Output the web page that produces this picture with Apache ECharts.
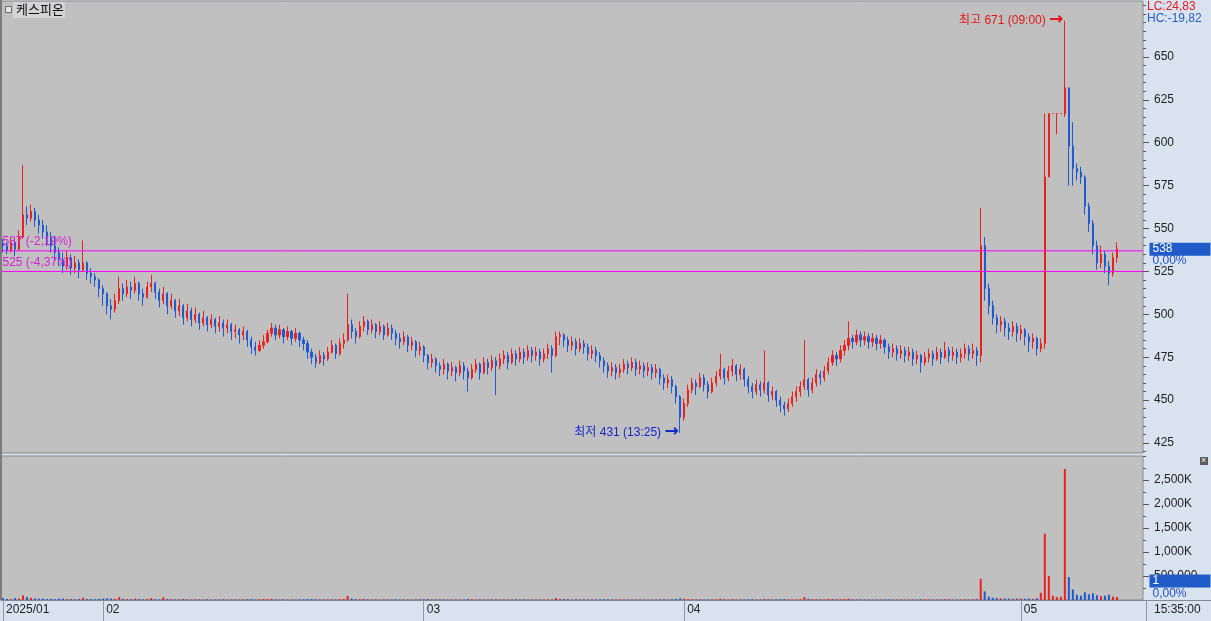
<!DOCTYPE html>
<html><head><meta charset="utf-8">
<script src="https://cdn.jsdelivr.net/npm/echarts@6/dist/echarts.min.js"></script>
<style>html,body{margin:0;padding:0;background:#d9e3ef;}#c{width:1211px;height:621px;}</style>
</head><body><div id="c"></div>
<script>
const monthStarts=[0,25,105,170,254];
const monthNames=['2025/01','02','03','04','05'];
const firstOpen=541;
const closes=[
540,537,542,538,545,558,556,560,555,552,548,545,540,536,532,528,533,527,530,526,
530,524,522,520,515,512,505,503,508,515,512,516,514,518,512,510,516,518,513,508,
512,505,508,502,505,498,502,497,500,495,498,494,497,493,495,492,494,490,491,488,
490,485,481,479,482,484,489,492,488,491,487,490,486,489,485,483,478,475,472,476,
474,478,482,477,483,485,494,490,487,493,496,491,494,490,493,488,492,489,486,484,
487,482,484,479,481,476,472,474,470,468,471,467,469,466,470,467,463,468,471,466,
472,469,473,470,474,476,472,477,474,478,475,479,476,478,474,477,480,476,487,488,
485,482,484,480,483,481,477,479,476,473,470,467,469,466,468,471,469,472,468,470,
467,469,466,468,463,460,462,458,452,440,448,456,460,458,463,459,455,460,464,468,
463,467,470,465,468,462,458,455,459,456,460,453,455,450,447,445,448,452,455,458,
462,456,460,465,463,467,472,476,474,479,482,486,484,488,485,487,484,486,483,485,
481,478,480,477,479,476,478,474,476,472,475,477,474,478,475,479,476,478,475,477,
480,477,479,476,540,515,505,498,494,496,492,490,493,489,491,487,484,486,480,483,
580,617,617,617,617,632,598,585,583,580,563,553,540,530,535,528,524,533,538];
const highs=[
544,542,545,543,549,587,563,564,562,558,555,552,548,545,539,536,537,535,534,532,
543,531,527,524,521,517,513,509,512,522,518,520,519,522,519,515,519,523,519,515,
516,513,512,509,509,506,506,504,504,501,502,499,500,498,499,497,497,495,494,492,
493,491,487,484,485,488,491,495,494,494,492,493,491,492,490,487,485,480,477,479,
478,481,485,483,486,489,512,497,492,496,499,497,497,495,496,494,495,494,491,489,
490,488,487,485,484,482,477,477,475,472,474,472,472,470,473,472,469,471,474,472,
475,474,476,475,477,479,478,480,479,481,480,482,481,481,480,480,483,482,490,490,
489,487,487,486,486,485,483,482,481,478,475,472,472,471,471,474,473,475,474,473,
472,472,471,471,469,465,465,464,459,453,451,459,463,462,466,465,461,463,467,477,
469,470,474,471,471,469,464,460,462,461,479,461,458,456,452,449,451,455,458,461,
485,463,463,468,467,470,475,479,478,482,485,496,488,491,490,490,489,489,488,488,
486,483,483,482,482,481,481,480,479,477,478,480,479,481,480,484,481,481,480,480,
483,482,483,481,562,545,518,508,500,499,498,495,496,495,494,492,489,489,487,486,
617,617,617,617,617,671,632,612,588,586,581,565,555,543,540,537,531,536,542];
const lows=[
536,535,536,534,537,544,552,554,551,547,544,540,536,531,528,524,526,523,524,521,
525,520,518,516,510,505,500,497,501,506,508,510,509,512,508,505,509,513,509,504,
506,500,503,498,499,494,496,493,495,491,493,490,492,489,490,487,489,485,486,483,
485,481,477,476,478,480,483,487,485,486,483,485,482,484,481,479,474,471,469,471,
470,473,477,474,476,480,484,486,483,486,490,488,489,486,488,485,487,485,482,480,
482,478,479,475,476,472,468,469,466,464,465,462,464,461,464,462,455,462,466,462,
465,465,467,453,468,471,468,471,470,472,471,473,472,473,470,472,474,466,475,482,
481,478,479,476,478,477,473,474,472,469,466,463,464,462,463,466,465,467,464,465,
463,464,462,463,459,456,457,454,448,431,438,446,454,453,457,455,451,454,458,462,
459,461,464,461,462,458,454,451,453,452,454,449,450,446,443,441,443,446,449,452,
456,452,454,458,459,461,465,470,470,472,476,479,480,482,481,482,480,481,479,480,
477,474,475,473,474,472,473,470,471,466,470,472,470,473,471,474,472,473,471,472,
474,473,474,470,472,508,500,494,489,490,487,485,487,484,485,482,478,480,476,478,
480,600,617,605,617,615,575,575,578,576,558,548,535,526,527,524,517,522,530];
const volumesK=[
35,22,18,40,28,95,60,45,30,25,28,20,22,18,25,30,16,20,14,22,
45,20,18,16,24,30,35,28,22,60,25,20,18,30,22,16,20,40,18,15,
55,20,16,14,18,22,15,12,16,14,12,18,10,14,12,16,11,13,15,12,
14,18,16,12,15,20,18,22,14,12,16,11,13,12,15,14,18,20,16,12,
14,12,16,13,18,22,85,30,18,15,20,16,12,14,11,13,15,12,14,10,
12,14,11,13,15,16,18,12,14,13,15,11,12,14,12,10,20,14,12,15,
13,11,14,16,12,14,11,13,15,12,14,11,12,13,10,12,14,11,40,22,
16,14,12,15,11,13,12,14,11,12,14,16,12,11,13,10,12,14,11,13,
12,10,13,11,14,16,12,15,20,35,24,18,14,12,15,11,13,14,12,25,
14,12,15,11,13,12,14,16,12,11,22,18,13,15,16,20,14,12,13,15,
60,24,16,18,14,15,20,22,16,18,20,28,16,14,15,12,13,11,14,12,
13,15,11,12,14,10,12,13,11,16,12,14,11,13,12,18,14,12,11,13,
15,12,14,16,440,180,70,45,40,35,30,30,25,30,28,25,30,22,35,150,
1380,500,90,60,70,2730,480,220,110,90,160,120,140,100,80,90,110,70,60];
const priceTicks=[425,450,475,500,525,550,575,600,625,650];
const volumeTicksK=[500,1000,1500,2000,2500];
const levelValues=[537,525];
const levelTexts=['537 (-2,19%)','525 (-4,37%)'];
const lastPrice=538;
const lastVolume=1;
const highMark={index:265,value:671,text:'최고 671 (09:00)'};
const lowMark={index:169,value:431,text:'최저 431 (13:25)'};
const totalSlots=285;

const RED='#e8221c', BLUE='#1f5ad0', MAG='#ff00ff', CLEAR='rgba(0,0,0,0)';
const FONT='"Liberation Sans","Noto Sans CJK KR",sans-serif';
const slots=Array.from({length:totalSlots},(_,i)=>String(i));
const lastSlot=totalSlots-1;
const opens=closes.map((c,i)=>i===0?firstOpen:closes[i-1]);
const candles=closes.map((c,i)=>{const o=opens[i];return [o,c,Math.min(lows[i],o,c),Math.max(highs[i],o,c)];});
const volData=volumesK.map((v,i)=>({value:v,itemStyle:{color:closes[i]>=opens[i]?RED:BLUE}}));
const PMIN=419.2, PMAX=682.6;
const priceMinor=[];for(let v=420;v<=680;v+=5)priceMinor.push(v);
const volMinor=[];for(let v=250;v<=3000;v+=250)volMinor.push(v);
const fmtK=v=>v>=1000?(v.toLocaleString('en-US')+'K'):(v*1000).toLocaleString('en-US');
const boxPoint=(y,txt,off)=>({coord:[lastSlot,y],label:{show:true,position:'right',formatter:txt,color:'#fff',backgroundColor:'#1f5cc8',width:58,height:13,lineHeight:13,padding:[0,0,0,3],distance:8,offset:off,fontSize:12,fontFamily:FONT}});
const pctPoint=(y,off)=>({coord:[lastSlot,y],label:{show:true,position:'right',formatter:'0,00%',color:'#2050c8',distance:11,offset:off,fontSize:12,fontFamily:FONT}});
const arrowRich=(c)=>({t:{color:c,fontSize:12,fontFamily:FONT},a:{color:c,fontSize:17,fontWeight:'bold',fontFamily:'"DejaVu Sans"',padding:[0,0,2,0]}});
const hiddenPoints={symbol:'circle',symbolSize:1,silent:true,itemStyle:{color:CLEAR}};

// both level lines in one series, separated by a gap
const levelData=[];
levelValues.forEach((v,k)=>{
  if(k>0)levelData.push('-');
  levelData.push({value:[0,v],label:{show:true,position:'right',distance:1,offset:[0,-9],formatter:levelTexts[k],color:'#d81ed8',fontSize:12,fontFamily:FONT}});
  levelData.push([lastSlot,v]);
});

const chart=echarts.init(document.getElementById('c'));
chart.setOption({
  backgroundColor:'#d9e3ef',animation:false,
  textStyle:{fontFamily:FONT},
  grid:[
    {left:1,right:68,top:1,height:452,show:true,backgroundColor:'#c0c0c0',borderColor:'#8a8a8a',borderWidth:1},
    {left:1,right:68,top:456,height:144,show:true,backgroundColor:'#c0c0c0',borderColor:'#8a8a8a',borderWidth:1}
  ],
  xAxis:[
    {type:'category',gridIndex:0,data:slots,boundaryGap:false,show:false},
    {type:'category',gridIndex:1,data:slots,boundaryGap:true,
     axisLine:{show:true,lineStyle:{color:'#7f8a96'}},
     axisTick:{show:true,alignWithLabel:true,length:21,interval:(i)=>monthStarts.includes(i),lineStyle:{color:'#8e9aa8'}},
     axisLabel:{interval:(i)=>monthStarts.includes(i),formatter:(v,i)=>monthNames[monthStarts.indexOf(i)],align:'left',padding:[0,0,0,3],margin:4,color:'#222',fontSize:12,fontFamily:FONT},
     splitLine:{show:false}},
    {type:'category',gridIndex:0,data:slots,boundaryGap:true,show:false}
  ],
  yAxis:[
    {type:'value',gridIndex:0,position:'right',min:PMIN,max:PMAX,splitLine:{show:false},axisLine:{show:false},
     axisTick:{show:true,length:6,customValues:priceTicks,lineStyle:{color:'#555'}},
     axisLabel:{customValues:priceTicks,margin:11,color:'#222',fontSize:12,fontFamily:FONT}},
    {type:'value',gridIndex:0,position:'right',min:PMIN,max:PMAX,splitLine:{show:false},axisLine:{show:false},
     axisTick:{show:true,length:3,customValues:priceMinor,lineStyle:{color:'#555'}},axisLabel:{show:false}},
    {type:'value',gridIndex:1,position:'right',min:0,max:3000,splitLine:{show:false},axisLine:{show:false},
     axisTick:{show:true,length:6,customValues:volumeTicksK,lineStyle:{color:'#555'}},
     axisLabel:{customValues:volumeTicksK,formatter:fmtK,margin:11,color:'#222',fontSize:12,fontFamily:FONT}},
    {type:'value',gridIndex:1,position:'right',min:0,max:3000,splitLine:{show:false},axisLine:{show:false},
     axisTick:{show:true,length:3,customValues:volMinor,lineStyle:{color:'#555'}},axisLabel:{show:false}}
  ],
  series:[
    {type:'line',xAxisIndex:0,yAxisIndex:0,z:4,silent:true,data:levelData,connectNulls:false,
     showSymbol:true,symbol:'circle',symbolSize:1,
     lineStyle:{color:MAG,width:1,type:'solid',opacity:1},itemStyle:{color:CLEAR},emphasis:{disabled:true}},
    {type:'candlestick',xAxisIndex:2,yAxisIndex:0,data:candles,barWidth:1.6,z:3,
     itemStyle:{color:RED,color0:BLUE,borderColor:RED,borderColor0:BLUE,borderWidth:1},
     markPoint:Object.assign({},hiddenPoints,{
       data:[
        {coord:[highMark.index,highMark.value],label:{show:true,position:'left',distance:1,formatter:'{t|'+highMark.text+'} {a|→}',rich:arrowRich('#e01818')}},
        {coord:[lowMark.index,lowMark.value],label:{show:true,position:'left',distance:1,formatter:'{t|'+lowMark.text+'} {a|→}',rich:arrowRich('#1228c8')}},
        boxPoint(lastPrice,String(lastPrice),[0,0]),
        pctPoint(lastPrice,[0,12])
       ]})},
    {type:'bar',xAxisIndex:1,yAxisIndex:2,data:volData,barWidth:2,
     markPoint:Object.assign({},hiddenPoints,{
       data:[
        boxPoint(lastVolume,String(lastVolume),[0,-19]),
        pctPoint(lastVolume,[0,-6])
       ]})}
  ],
  graphic:[
    {type:'rect',shape:{x:0,y:0,width:2,height:600},style:{fill:'#7c7c7c'},z:100},
    {type:'rect',shape:{x:13,y:2,width:52,height:16},style:{fill:'#d4d4d4'},z:100},
    {type:'rect',shape:{x:5.5,y:6.5,width:6,height:6},style:{fill:'#e6e6e6',stroke:'#6a6a6a',lineWidth:1},z:100},
    {type:'text',x:16,y:3,style:{text:'케스피온',font:'13px "Noto Sans CJK KR",sans-serif',fill:'#111'},z:101},
    {type:'text',x:1147,y:1,style:{text:'LC:24,83',font:'12px '+FONT,fill:'#e02020'},z:100},
    {type:'text',x:1147,y:13,style:{text:'HC:-19,82',font:'12px '+FONT,fill:'#2a5cc0'},z:100},
    {type:'line',shape:{x1:1143,y1:600.5,x2:1211,y2:600.5},style:{stroke:'#7f8a96',lineWidth:1},z:100},
    {type:'line',shape:{x1:1146.5,y1:600,x2:1146.5,y2:621},style:{stroke:'#8e9aa8',lineWidth:1},z:100},
    {type:'text',x:1154,y:604,style:{text:'15:35:00',font:'12px '+FONT,fill:'#222'},z:100},
    {type:'rect',shape:{x:1200,y:457,width:8,height:8},style:{fill:'#5a5a5a'},z:100},
    {type:'text',x:1201,y:456,style:{text:'×',font:'9px '+FONT,fill:'#fff'},z:101}
  ]
});
</script></body></html>
